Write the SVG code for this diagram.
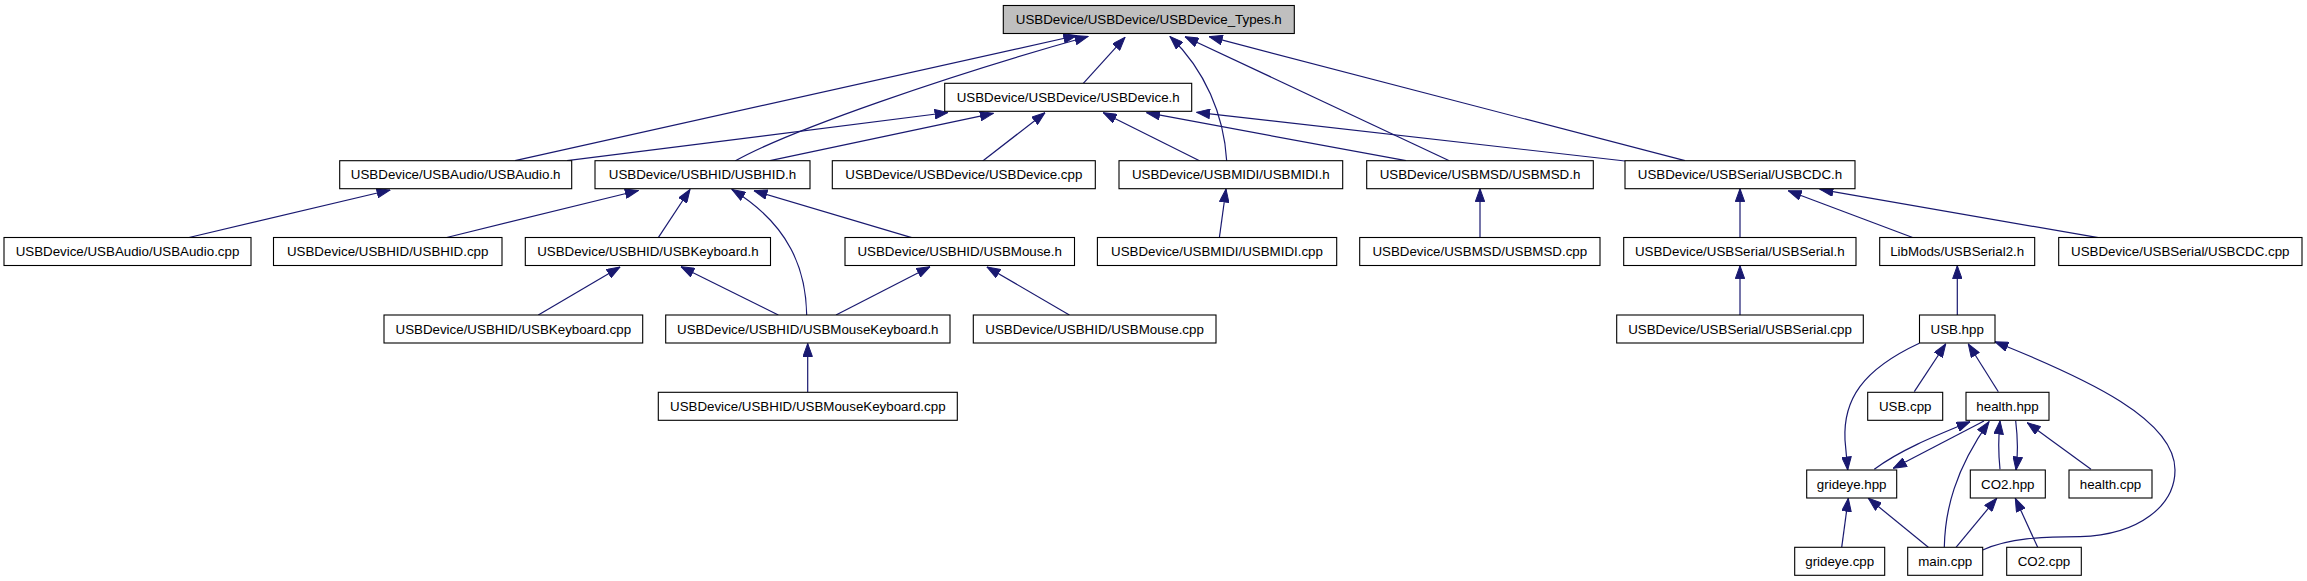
<svg xmlns="http://www.w3.org/2000/svg" width="2307" height="581" viewBox="0 0 2307 581">
<style>
.n rect{fill:#fff;stroke:#000;stroke-width:1.1}
.n.root rect{fill:#bfbfbf}
.n text{font-family:"Liberation Sans",Arial,sans-serif;font-size:13.33px;fill:#000;text-anchor:middle}
.e path{fill:none;stroke:#191970;stroke-width:1.2;marker-end:url(#a)}
</style>
<defs>
<marker id="a" markerUnits="userSpaceOnUse" markerWidth="14" markerHeight="10" viewBox="0 0 14 10" refX="13.5" refY="5" orient="auto">
<path d="M0.5,0.3 L13.5,5 L0.5,9.7 z" fill="#191970" stroke="#191970" stroke-width="1"/>
</marker>
</defs>
<rect width="2307" height="581" fill="#fff"/>
<g id="connectors" class="e">
<path d="M515,160.7 L1076.7,35.5"/>
<path d="M735,161 C790,130 950,75 1088,36.5"/>
<path d="M1083.3,83.3 L1125,37.3"/>
<path d="M1226.7,161 C1224,115 1205,70 1170,36.5"/>
<path d="M1449.3,160.7 L1185,36.7"/>
<path d="M1685,160.7 L1209.3,36.7"/>
<path d="M567,160.7 L948,112.5"/>
<path d="M770,160.7 L993.3,113.3"/>
<path d="M982.7,161 L1045,112.7"/>
<path d="M1200,161 L1103.3,112.7"/>
<path d="M1406,160.7 L1146.7,112.7"/>
<path d="M1625,161 L1196.7,112.3"/>
<path d="M189,237.5 L390,190"/>
<path d="M446.7,237.5 L638.3,190.5"/>
<path d="M658.3,237.7 L690,189.5"/>
<path d="M806.7,315 C806,270 790,225 732,189.5"/>
<path d="M911.7,237.7 L754,190.7"/>
<path d="M1219.4,237.5 L1226,189"/>
<path d="M1480,237.3 L1480,188.7"/>
<path d="M1740,237.5 L1740,188.7"/>
<path d="M1913.3,237.7 L1788.3,190.7"/>
<path d="M2098.3,237.7 L1820,189.3"/>
<path d="M538.3,315 L620,267"/>
<path d="M778.3,315 L681,266.7"/>
<path d="M836,315 L930,266.7"/>
<path d="M1069.4,315 L987,267"/>
<path d="M1740,315 L1740,265.7"/>
<path d="M1957.3,315 L1957.3,265.7"/>
<path d="M807.7,392.3 L807.7,343.5"/>
<path d="M1914.3,391.7 L1945.7,344"/>
<path d="M1998.3,391.7 L1968.3,344"/>
<path d="M1919.3,343.3 C1862,370 1843,400 1845,440 L1847.7,470"/>
<path d="M1982.7,550 C2010,538 2040,537 2080,536.7 C2140,535 2175,505 2175,470 C2175,420 2090,380 1995,341.7"/>
<path d="M1874.3,469.3 C1900,450 1935,436 1970,421.7"/>
<path d="M1984,421 L1893.3,468.3"/>
<path d="M1944.3,547.3 C1945,510 1955,470 1989,421.7"/>
<path d="M2000,469.3 C1998,450 1998,440 2000,421"/>
<path d="M2015.7,421 C2018,440 2018,455 2016,470"/>
<path d="M2091,469.3 L2027.3,422.7"/>
<path d="M1841.7,547.3 L1848.3,498.3"/>
<path d="M1928.3,547.3 L1868.3,498.3"/>
<path d="M1956,547.3 L1996.7,498.3"/>
<path d="M2037.7,547.3 L2015.3,498.3"/>
</g>
<g id="n0" class="n root"><rect x="1003.3" y="5.5" width="291" height="28"/><text x="1148.8" y="24.2">USBDevice/USBDevice/USBDevice_Types.h</text></g>
<g id="n1" class="n"><rect x="944.7" y="83.3" width="247" height="28"/><text x="1068.2" y="102">USBDevice/USBDevice/USBDevice.h</text></g>
<g id="n2" class="n"><rect x="339.7" y="160.7" width="232" height="28"/><text x="455.7" y="179.4">USBDevice/USBAudio/USBAudio.h</text></g>
<g id="n3" class="n"><rect x="595" y="160.7" width="215" height="28"/><text x="702.5" y="179.4">USBDevice/USBHID/USBHID.h</text></g>
<g id="n4" class="n"><rect x="832.3" y="160.7" width="263" height="28"/><text x="963.8" y="179.4">USBDevice/USBDevice/USBDevice.cpp</text></g>
<g id="n5" class="n"><rect x="1119" y="160.7" width="223.7" height="28"/><text x="1230.8" y="179.4">USBDevice/USBMIDI/USBMIDI.h</text></g>
<g id="n6" class="n"><rect x="1366.7" y="160.7" width="226.6" height="28"/><text x="1480" y="179.4">USBDevice/USBMSD/USBMSD.h</text></g>
<g id="n7" class="n"><rect x="1625" y="160.7" width="230" height="28"/><text x="1740" y="179.4">USBDevice/USBSerial/USBCDC.h</text></g>
<g id="n8" class="n"><rect x="4" y="237.5" width="247" height="28"/><text x="127.5" y="256.2">USBDevice/USBAudio/USBAudio.cpp</text></g>
<g id="n9" class="n"><rect x="273.5" y="237.5" width="228.5" height="28"/><text x="387.7" y="256.2">USBDevice/USBHID/USBHID.cpp</text></g>
<g id="n10" class="n"><rect x="525.3" y="237.5" width="245.2" height="28"/><text x="647.9" y="256.2">USBDevice/USBHID/USBKeyboard.h</text></g>
<g id="n11" class="n"><rect x="845" y="237.5" width="229.5" height="28"/><text x="959.7" y="256.2">USBDevice/USBHID/USBMouse.h</text></g>
<g id="n12" class="n"><rect x="1097.4" y="237.5" width="239.3" height="28"/><text x="1217" y="256.2">USBDevice/USBMIDI/USBMIDI.cpp</text></g>
<g id="n13" class="n"><rect x="1359.7" y="237.5" width="240.3" height="28"/><text x="1479.8" y="256.2">USBDevice/USBMSD/USBMSD.cpp</text></g>
<g id="n14" class="n"><rect x="1623.7" y="237.5" width="232.3" height="28"/><text x="1739.8" y="256.2">USBDevice/USBSerial/USBSerial.h</text></g>
<g id="n15" class="n"><rect x="1879.7" y="237.5" width="155" height="28"/><text x="1957.2" y="256.2">LibMods/USBSerial2.h</text></g>
<g id="n16" class="n"><rect x="2058.7" y="237.5" width="243.3" height="28"/><text x="2180.3" y="256.2">USBDevice/USBSerial/USBCDC.cpp</text></g>
<g id="n17" class="n"><rect x="384" y="315" width="258.7" height="28"/><text x="513.3" y="333.7">USBDevice/USBHID/USBKeyboard.cpp</text></g>
<g id="n18" class="n"><rect x="665.7" y="315" width="284.3" height="28"/><text x="807.8" y="333.7">USBDevice/USBHID/USBMouseKeyboard.h</text></g>
<g id="n19" class="n"><rect x="973.3" y="315" width="242.7" height="28"/><text x="1094.6" y="333.7">USBDevice/USBHID/USBMouse.cpp</text></g>
<g id="n20" class="n"><rect x="1616.7" y="315" width="246.6" height="28"/><text x="1740" y="333.7">USBDevice/USBSerial/USBSerial.cpp</text></g>
<g id="n21" class="n"><rect x="1919.5" y="315" width="75.5" height="28"/><text x="1957.2" y="333.7">USB.hpp</text></g>
<g id="n22" class="n"><rect x="658.3" y="392.3" width="299" height="28"/><text x="807.8" y="411">USBDevice/USBHID/USBMouseKeyboard.cpp</text></g>
<g id="n23" class="n"><rect x="1867.7" y="392.3" width="75" height="28"/><text x="1905.2" y="411">USB.cpp</text></g>
<g id="n24" class="n"><rect x="1966" y="392.3" width="83" height="28"/><text x="2007.5" y="411">health.hpp</text></g>
<g id="n25" class="n"><rect x="1806.7" y="470" width="90" height="28"/><text x="1851.7" y="488.7">grideye.hpp</text></g>
<g id="n26" class="n"><rect x="1970.3" y="470" width="75" height="28"/><text x="2007.8" y="488.7">CO2.hpp</text></g>
<g id="n27" class="n"><rect x="2069" y="470" width="83" height="28"/><text x="2110.5" y="488.7">health.cpp</text></g>
<g id="n28" class="n"><rect x="1794.7" y="547.3" width="90" height="28"/><text x="1839.7" y="566">grideye.cpp</text></g>
<g id="n29" class="n"><rect x="1907.7" y="547.3" width="75" height="28"/><text x="1945.2" y="566">main.cpp</text></g>
<g id="n30" class="n"><rect x="2006.7" y="547.3" width="74.6" height="28"/><text x="2044" y="566">CO2.cpp</text></g>
</svg>
